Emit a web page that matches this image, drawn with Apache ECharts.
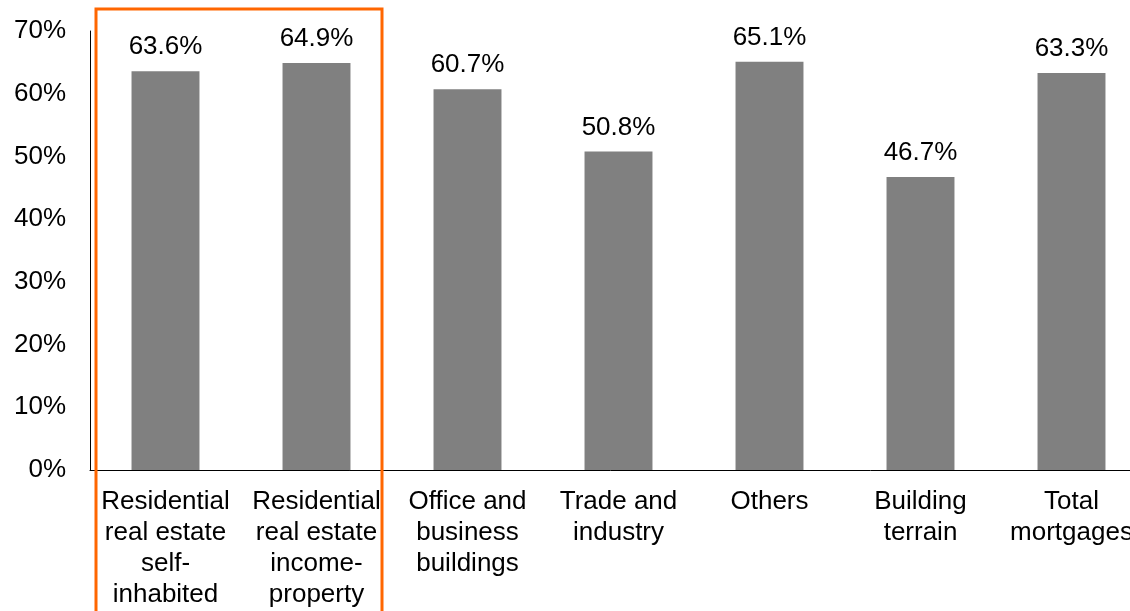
<!DOCTYPE html>
<html>
<head>
<meta charset="utf-8">
<script src="https://cdn.jsdelivr.net/npm/echarts@6/dist/echarts.min.js"></script>
<style>
  html, body { margin: 0; padding: 0; background: #fff; }
  #chart { width: 1130px; height: 611px; }
</style>
</head>
<body>
<div id="chart"></div>
<script>
// Loan-to-value ratio by mortgage type
const categories = [
  'Residential\nreal estate\nself-\ninhabited',
  'Residential\nreal estate\nincome-\nproperty',
  'Office and\nbusiness\nbuildings',
  'Trade and\nindustry',
  'Others',
  'Building\nterrain',
  'Total\nmortgages'
];
const values = [63.6, 64.9, 60.7, 50.8, 65.1, 46.7, 63.3];
const yTicks = [0, 10, 20, 30, 40, 50, 60, 70];

const font = '"Liberation Sans", Arial, sans-serif';
const chart = echarts.init(document.getElementById('chart'));

chart.setOption({
  animation: false,
  textStyle: { fontFamily: font },
  // plot area runs a little past the right edge of the canvas
  grid: { left: 90, width: 1057, top: 31, bottom: 141, containLabel: false, outerBoundsMode: 'none' },
  xAxis: {
    type: 'category',
    data: categories,
    axisLine: { show: true, lineStyle: { color: '#000', width: 1 } },
    axisTick: { show: false },
    axisLabel: {
      interval: 0,
      color: '#000',
      fontSize: 26,
      lineHeight: 31,
      margin: 16,
      fontFamily: font
    }
  },
  yAxis: {
    type: 'value',
    min: yTicks[0],
    max: yTicks[yTicks.length - 1],
    interval: 10,
    splitLine: { show: false },
    axisLine: { show: true, lineStyle: { color: '#000', width: 1 } },
    axisTick: { show: false },
    axisLabel: {
      color: '#000',
      fontSize: 26,
      margin: 24,
      fontFamily: font,
      formatter: v => v + '%'
    }
  },
  series: [{
    type: 'bar',
    data: values,
    barWidth: '45%',
    itemStyle: { color: '#808080' },
    label: {
      show: true,
      position: 'top',
      distance: 11,
      color: '#000',
      fontSize: 26,
      fontFamily: font,
      formatter: p => p.value.toFixed(1) + '%'
    }
  }],
  graphic: [{
    type: 'rect',
    shape: { x: 96, y: 9, width: 286, height: 610 },
    style: { fill: 'none', stroke: '#FF6600', lineWidth: 3 },
    z: 100
  }]
});
</script>
</body>
</html>
